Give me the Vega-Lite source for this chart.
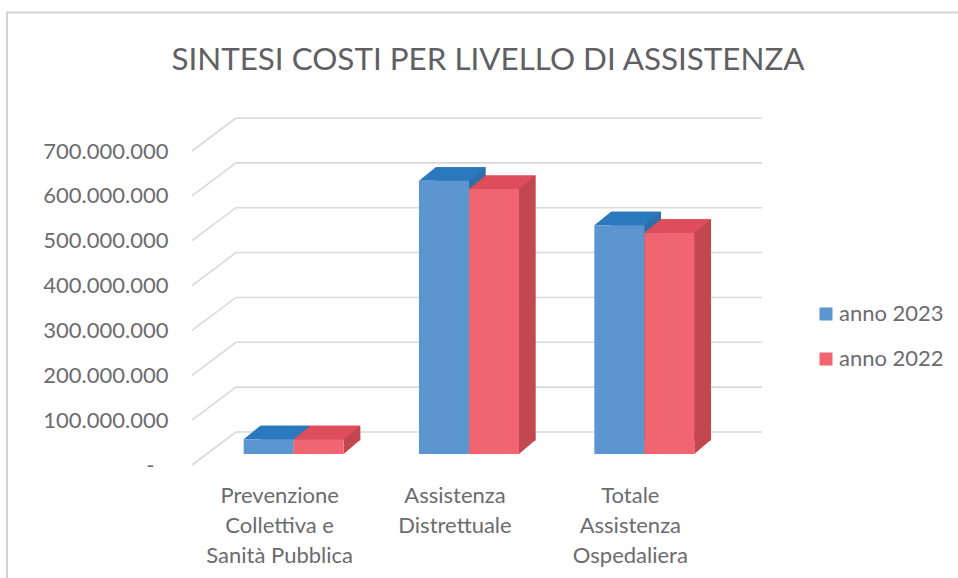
{"$schema":"https://vega.github.io/schema/vega-lite/v6.json","width":526,"height":314,"autosize":{"type":"none"},"padding":{"left":192,"top":151,"right":240,"bottom":113},"background":"white","title":{"text":"SINTESI COSTI PER LIVELLO DI ASSISTENZA","font":"Lato","fontSize":31.4,"fontWeight":"normal","color":"#5f5f64","anchor":"middle","frame":"group","dx":33,"offset":-68},"config":{"view":{"stroke":null},"font":"Lato"},"data":{"values":[{"categoria":"Prevenzione Collettiva e Sanità Pubblica","serie":"anno 2023","valore":33000000},{"categoria":"Prevenzione Collettiva e Sanità Pubblica","serie":"anno 2022","valore":33000000},{"categoria":"Assistenza Distrettuale","serie":"anno 2023","valore":609000000},{"categoria":"Assistenza Distrettuale","serie":"anno 2022","valore":591000000},{"categoria":"Totale Assistenza Ospedaliera","serie":"anno 2023","valore":510000000},{"categoria":"Totale Assistenza Ospedaliera","serie":"anno 2022","valore":493000000}]},"resolve":{"scale":{"color":"independent","x":"independent"},"axis":{"x":"independent"}},"layer":[{"data":{"values":[{"tick":0},{"tick":100000000},{"tick":200000000},{"tick":300000000},{"tick":400000000},{"tick":500000000},{"tick":600000000},{"tick":700000000}]},"mark":{"type":"point","filled":false,"shape":"M-263,0L-219,-33L307,-33","size":4,"stroke":"#d9d9d9","strokeWidth":1.6,"opacity":1},"encoding":{"y":{"field":"tick","type":"quantitative","scale":{"domain":[0,700000000]},"axis":{"values":[0,100000000,200000000,300000000,400000000,500000000,600000000,700000000],"labelExpr":"datum.value == 0 ? '-' : replace(format(datum.value, ','), regexp(',', 'g'), '.')","title":null,"grid":false,"domain":false,"ticks":false,"labelFont":"Lato","labelFontSize":22,"labelColor":"#6b6b70","labelPadding":{"condition":{"test":"datum.value == 0","value":38},"value":24}}}}},{"data":{"values":[{"edge":700000000}]},"mark":{"type":"point","filled":false,"shape":"M-448,427L-448,-138.5L503,-138.5","size":4,"stroke":"#d4d4d4","strokeWidth":2.2,"opacity":1},"encoding":{"y":{"field":"edge","type":"quantitative"}}},{"mark":{"type":"bar","yOffset":-24.5,"y2Offset":-24.5,"stroke":null},"encoding":{"x":{"field":"categoria","type":"nominal","sort":null,"scale":{"range":[30.7,556.7],"paddingInner":0.4297,"paddingOuter":0.2148},"axis":null},"xOffset":{"field":"serie","type":"nominal","sort":["anno 2023","anno 2022"],"scale":{"padding":0,"domain":["anno 2023","anno 2022"]}},"y":{"field":"valore","type":"quantitative"},"y2":{"datum":0},"color":{"field":"serie","type":"nominal","scale":{"domain":["anno 2023","anno 2022"],"range":["#2f6ea8","#c2474f"]},"legend":null}}},{"mark":{"type":"point","filled":true,"shape":"M25,0L25,-14.5L42,-14.5Z","size":4,"opacity":1,"yOffset":-11},"encoding":{"x":{"field":"categoria","type":"nominal","sort":null,"scale":{"range":[14,540],"paddingInner":0.4297,"paddingOuter":0.2148},"axis":null},"xOffset":{"field":"serie","type":"nominal","sort":["anno 2023","anno 2022"],"scale":{"padding":0,"domain":["anno 2023","anno 2022"]}},"y":{"datum":0,"type":"quantitative"},"color":{"field":"serie","type":"nominal","scale":{"domain":["anno 2023","anno 2022"],"range":["#2f6ea8","#c2474f"]},"legend":null}}},{"mark":{"type":"point","filled":true,"shape":"M-25,0L25,0L41.7,-13.5L-8.3,-13.5Z","size":4,"opacity":1,"yOffset":-11},"encoding":{"x":{"field":"categoria","type":"nominal","sort":null,"scale":{"range":[14,540],"paddingInner":0.4297,"paddingOuter":0.2148},"axis":null},"xOffset":{"field":"serie","type":"nominal","sort":["anno 2023","anno 2022"],"scale":{"padding":0,"domain":["anno 2023","anno 2022"]}},"y":{"field":"valore","type":"quantitative"},"color":{"field":"serie","type":"nominal","scale":{"domain":["anno 2023","anno 2022"],"range":["#2a78bd","#dd4e5a"]},"legend":null}}},{"mark":{"type":"bar","yOffset":-11,"y2Offset":-11,"stroke":null},"encoding":{"x":{"field":"categoria","type":"nominal","sort":null,"scale":{"range":[14,540],"paddingInner":0.4297,"paddingOuter":0.2148},"axis":{"title":null,"domain":false,"ticks":false,"labelAngle":0,"labelOffset":-14,"labelFont":"Lato","labelFontSize":22,"labelColor":"#6b6b70","labelPadding":20,"labelLimit":0,"labelLineHeight":30,"labelExpr":"datum.value == 'Prevenzione Collettiva e Sanità Pubblica' ? ['Prevenzione','Collettiva e','Sanità Pubblica'] : datum.value == 'Assistenza Distrettuale' ? ['Assistenza','Distrettuale'] : ['Totale','Assistenza','Ospedaliera']"}},"xOffset":{"field":"serie","type":"nominal","sort":["anno 2023","anno 2022"],"scale":{"padding":0,"domain":["anno 2023","anno 2022"]}},"y":{"field":"valore","type":"quantitative"},"y2":{"datum":0},"color":{"field":"serie","type":"nominal","scale":{"domain":["anno 2023","anno 2022"],"range":["#5b96d0","#f0656f"]},"legend":{"title":null,"orient":"none","legendX":623,"legendY":152,"symbolType":"square","symbolSize":169,"symbolStrokeWidth":0,"labelFont":"Lato","labelFontSize":22,"labelColor":"#6b6b70","labelOffset":2,"rowPadding":23}}}}]}
